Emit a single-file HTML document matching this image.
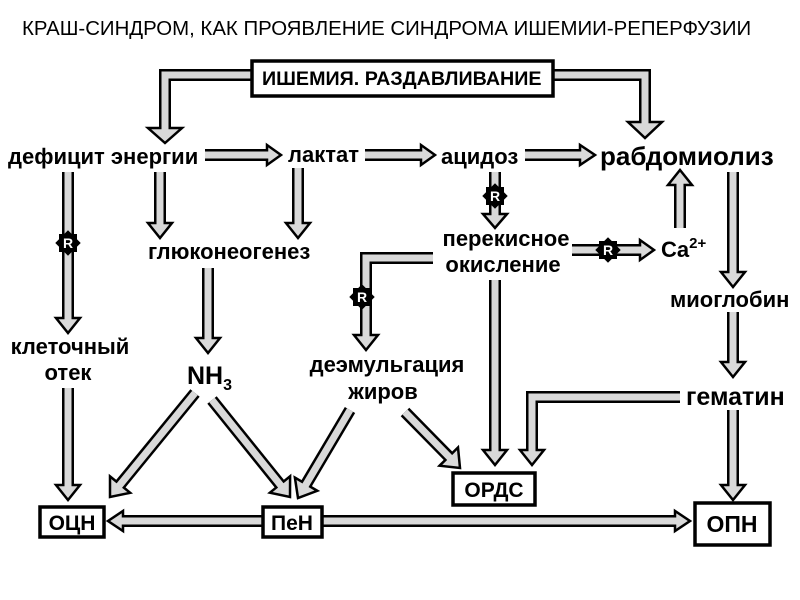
<!DOCTYPE html>
<html><head><meta charset="utf-8"><style>
html,body{margin:0;padding:0;background:#fff;}
svg{display:block;}
text{font-family:"Liberation Sans",sans-serif;fill:#000;}
.b{font-weight:bold;font-size:22px;}
.k{stroke:#000;stroke-width:12;fill:none;stroke-linejoin:miter;stroke-linecap:butt;}
.g{stroke:#d9d9d9;stroke-width:7;fill:none;stroke-linejoin:miter;stroke-linecap:butt;}
.h{fill:#d9d9d9;stroke:#000;stroke-width:2.5;stroke-linejoin:miter;}
.bx{fill:#fff;stroke:#000;stroke-width:3.5;}
</style></head><body>
<svg width="800" height="600" viewBox="0 0 800 600" xmlns="http://www.w3.org/2000/svg">
<defs>
<g id="R"><rect x="-9" y="-9" width="18" height="18" fill="#000"/><rect x="-9" y="-9" width="18" height="18" fill="#000" transform="rotate(45)"/><text x="0" y="5" text-anchor="middle" font-size="14" font-weight="bold" style="fill:#fff">R</text></g>
</defs>
<text x="22" y="35" font-size="20.4">КРАШ-СИНДРОМ, КАК ПРОЯВЛЕНИЕ СИНДРОМА ИШЕМИИ-РЕПЕРФУЗИИ</text>

<path class="k" d="M252,75 H165 V128"/><polygon class="h" points="148,128 182,128 165,143"/><path class="g" d="M252,75 H165 V131"/>
<path class="k" d="M553,75 H645 V122"/><polygon class="h" points="628,122 662,122 645,138"/><path class="g" d="M553,75 H645 V125"/>
<rect class="bx" x="252" y="61" width="301" height="35" stroke-width="4"/>
<text x="262" y="85" class="b" style="font-size:19.7px">ИШЕМИЯ. РАЗДАВЛИВАНИЕ</text>

<path class="k" d="M205,155 H267"/><polygon class="h" points="267,145 267,165 281,155"/><path class="g" d="M205,155 H270"/>
<path class="k" d="M365,155 H421"/><polygon class="h" points="421,145 421,165 435,155"/><path class="g" d="M365,155 H424"/>
<path class="k" d="M525,155 H580"/><polygon class="h" points="580,145 580,165 595,155"/><path class="g" d="M525,155 H583"/>

<path class="k" d="M68,172 V318"/><polygon class="h" points="56,318 80,318 68,333"/><path class="g" d="M68,172 V321"/>
<path class="k" d="M160,172 V223"/><polygon class="h" points="148,223 172,223 160,238"/><path class="g" d="M160,172 V226"/>
<path class="k" d="M298,168 V223"/><polygon class="h" points="286,223 310,223 298,238"/><path class="g" d="M298,168 V226"/>
<path class="k" d="M495,172 V214"/><polygon class="h" points="483,214 507,214 495,228"/><path class="g" d="M495,172 V217"/>
<path class="k" d="M572,250 H640"/><polygon class="h" points="640,240 640,260 654,250"/><path class="g" d="M572,250 H643"/>
<path class="k" d="M680,228 V185"/><polygon class="h" points="668,185 692,185 680,170"/><path class="g" d="M680,228 V182"/>
<path class="k" d="M733,172 V272"/><polygon class="h" points="721,272 745,272 733,287"/><path class="g" d="M733,172 V275"/>
<path class="k" d="M733,312 V362"/><polygon class="h" points="721,362 745,362 733,377"/><path class="g" d="M733,312 V365"/>
<path class="k" d="M733,410 V485"/><polygon class="h" points="721,485 745,485 733,500"/><path class="g" d="M733,410 V488"/>
<path class="k" d="M495,280 V450"/><polygon class="h" points="483,450 507,450 495,465"/><path class="g" d="M495,280 V453"/>
<path class="k" d="M433,258 H366 V335"/><polygon class="h" points="354,335 378,335 366,350"/><path class="g" d="M433,258 H366 V338"/>
<path class="k" d="M680,397 H532 V450"/><polygon class="h" points="520,450 544,450 532,465"/><path class="g" d="M680,397 H532 V453"/>
<path class="k" d="M68,388 V485"/><polygon class="h" points="56,485 80,485 68,500"/><path class="g" d="M68,388 V488"/>
<path class="k" d="M208,268 V338"/><polygon class="h" points="196,338 220,338 208,353"/><path class="g" d="M208,268 V341"/>

<path class="k" d="M405,412 L448.8,456.6"/><polygon class="h" points="439.6,465.7 458,447.5 460,468"/><path class="g" d="M405,412 L450.9,458.8"/>
<path class="k" d="M350,410 L306.1,484.2"/><polygon class="h" points="294.9,477.6 317.3,490.8 298,498"/><path class="g" d="M350,410 L304.6,486.8"/>
<path class="k" d="M195,393 L120.1,484.6"/><polygon class="h" points="110,476.4 130.2,492.8 110,497"/><path class="g" d="M195,393 L118.2,487"/>
<path class="k" d="M212,400 L280,484.5"/><polygon class="h" points="269.9,492.7 290.1,476.3 290,497"/><path class="g" d="M212,400 L281.9,486.8"/>

<path class="k" d="M263,521 H123"/><polygon class="h" points="123,511 123,531 108,521"/><path class="g" d="M263,521 H120"/>
<path class="k" d="M322,521 H675"/><polygon class="h" points="675,511 675,531 690,521"/><path class="g" d="M322,521 H678"/>

<use href="#R" x="68" y="243"/>
<use href="#R" x="495" y="196"/>
<use href="#R" x="608" y="250"/>
<use href="#R" x="362" y="297"/>

<text x="8" y="164" class="b">дефицит энергии</text>
<text x="288" y="162" class="b">лактат</text>
<text x="441" y="164" class="b">ацидоз</text>
<text x="600" y="165" font-size="26" font-weight="bold">рабдомиолиз</text>
<text x="148" y="259" class="b">глюконеогенез</text>
<text x="506" y="246" class="b" text-anchor="middle">перекисное</text>
<text x="503" y="272" class="b" text-anchor="middle">окисление</text>
<text x="661" y="257" font-size="22" font-weight="bold">Ca<tspan font-size="15" dy="-9">2+</tspan></text>
<text x="670" y="307" class="b">миоглобин</text>
<text x="686" y="405" font-size="25" font-weight="bold">гематин</text>
<text x="70" y="354" class="b" text-anchor="middle">клеточный</text>
<text x="68" y="380" class="b" text-anchor="middle">отек</text>
<text x="187" y="384" font-size="25" font-weight="bold">NH<tspan font-size="16" dy="6">3</tspan></text>
<text x="387" y="372" class="b" text-anchor="middle">деэмульгация</text>
<text x="383" y="399" class="b" text-anchor="middle">жиров</text>

<rect class="bx" x="40" y="507" width="64" height="30"/><text x="72" y="530" class="b" style="font-size:21px" text-anchor="middle">ОЦН</text>
<rect class="bx" x="263" y="507" width="59" height="30"/><text x="292" y="530" class="b" style="font-size:21px" text-anchor="middle">ПеН</text>
<rect class="bx" x="453" y="473" width="82" height="32"/><text x="494" y="497" class="b" style="font-size:21px" text-anchor="middle">ОРДС</text>
<rect class="bx" x="695" y="503" width="75" height="42"/><text x="732" y="532" font-size="23" font-weight="bold" text-anchor="middle">ОПН</text>
</svg>
</body></html>
